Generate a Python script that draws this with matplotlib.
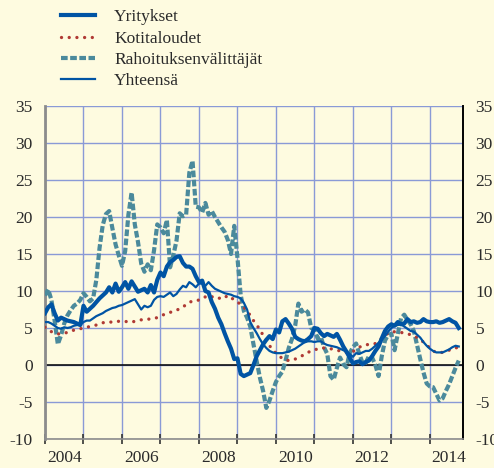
import matplotlib
matplotlib.use("Agg")
import matplotlib.pyplot as plt
import numpy as np

plt.rcParams['font.family'] = ['Liberation Serif', 'DejaVu Serif']
plt.rcParams['axes.unicode_minus'] = False

# monthly observations, Jan 2004 .. Oct 2014 (annual growth, %)
start_year = 2004

yritykset = [
    7.0, 7.8, 8.2, 7.0, 6.0, 6.4, 6.2, 6.0, 5.9, 5.8, 5.6, 5.4,
    8.0, 7.2, 7.6, 8.0, 8.5, 9.0, 9.4, 9.8, 10.5, 9.8, 11.0, 9.9,
    10.5, 11.2, 10.3, 11.3, 10.6, 9.9, 10.1, 10.3, 9.8, 10.8, 9.8, 11.5,
    12.5, 12.0, 13.3, 13.9, 14.2, 14.6, 14.7, 13.8, 13.3, 13.3, 13.0, 12.0,
    11.2, 11.4, 10.0, 9.8, 8.5, 7.6, 6.4, 5.5, 4.3, 3.2, 2.2, 0.8,
    0.9, -1.2, -1.5, -1.3, -1.1, 0.0, 1.2, 2.0, 2.8, 3.4, 3.9, 3.5,
    4.8, 4.4, 5.9, 6.2, 5.6, 4.9, 3.8, 3.5, 3.3, 3.2, 3.5, 3.9,
    5.0, 4.9, 4.3, 3.9, 4.2, 4.0, 3.8, 4.2, 3.4, 2.5, 1.8, 1.0,
    0.2, 0.4, 0.5, 0.1, 0.4, 0.6, 1.2, 1.9, 2.5, 3.6, 4.6, 5.2,
    5.5, 5.3, 5.8, 5.5, 5.6, 6.2, 5.8, 5.9, 5.7, 5.8, 6.2, 5.9,
    5.8, 5.8, 5.9, 5.7, 5.8, 6.0, 6.2, 5.9, 5.7, 5.0,
]

kotitaloudet = [
    5.1, 4.8, 4.5, 4.3, 4.2, 4.2, 4.3, 4.4, 4.6, 4.7, 4.8, 4.9,
    5.0, 5.1, 5.2, 5.3, 5.4, 5.6, 5.7, 5.8, 5.8, 5.8, 5.9, 5.9,
    5.9, 5.9, 5.8, 5.8, 5.9, 6.0, 6.1, 6.1, 6.2, 6.2, 6.3, 6.4,
    6.6, 6.8, 7.0, 7.1, 7.3, 7.4, 7.6, 7.8, 8.2, 8.5, 8.6, 8.6,
    8.8, 9.1, 9.2, 9.0, 9.2, 9.3, 9.1, 8.9, 9.1, 9.4, 9.1, 8.8,
    8.5, 8.2, 7.8, 7.3, 6.7, 6.0, 5.4, 4.8, 4.0, 3.3, 2.6, 2.1,
    1.6, 1.2, 0.9, 0.7, 0.6, 0.6, 0.8, 1.0, 1.2, 1.5, 1.7, 1.9,
    2.0, 2.2, 2.3, 2.3, 2.3, 2.2, 2.1, 2.0, 1.9, 1.8, 1.7, 1.7,
    1.8, 2.1, 2.4, 2.6, 2.7, 2.8, 2.8, 2.9, 3.2, 3.6, 4.0, 4.3,
    4.4, 4.5, 4.4, 4.4, 4.3, 4.2, 4.1, 4.0, 3.7, 3.4, 3.1, 2.7,
    2.3, 1.9, 1.7, 1.7, 1.7, 1.8, 2.0, 2.1, 2.3, 2.4,
]

rahoituksenvalittajat = [
    9.4, 10.2, 8.8, 6.0, 2.8, 4.0, 5.6, 6.7, 7.4, 8.0, 8.3, 8.8,
    9.7, 9.2, 8.6, 9.0, 11.5, 15.8, 18.9, 20.4, 20.8, 18.5, 16.3, 14.8,
    13.4, 15.4, 20.3, 23.3, 19.0, 16.6, 13.7, 12.6, 13.6, 12.8, 15.5, 19.0,
    18.6, 17.8, 19.6, 13.2, 14.8, 16.8, 20.5, 20.1, 20.3, 26.0, 27.6, 21.4,
    21.3, 20.6, 21.9, 20.3, 20.8, 20.0, 19.3, 18.6, 18.0, 16.9, 15.0, 18.8,
    14.5, 9.5, 7.3, 6.4, 5.2, 2.8, 0.5, -1.7, -3.5, -5.8, -4.8, -3.5,
    -2.3, -1.5, -0.9, 0.6, 2.3, 3.5, 5.3, 8.3, 7.2, 7.5, 7.1, 5.0,
    4.8, 3.6, 3.8, 2.4, 1.5, -1.5, -2.0, -0.4, 1.0, 0.1, -0.3, 1.6,
    2.4, 2.9, 1.5, 0.3, 0.3, 1.2, 1.0, 0.0, -1.5, 1.2, 3.3, 4.1,
    4.2, 2.0, 4.2, 6.3, 6.8, 6.1, 5.5, 4.6, 2.7, 0.8, -1.0, -2.5,
    -2.9, -3.0, -3.9, -4.8, -4.5, -3.5, -2.6, -1.5, -0.4, 0.6,
]

yhteensa = [
    5.8, 5.8, 5.6, 5.3, 5.0, 4.9, 5.1, 5.0, 5.1, 5.3, 5.4, 5.4,
    5.8, 6.0, 6.0, 6.3, 6.6, 6.8, 7.0, 7.3, 7.5, 7.7, 7.8, 8.0,
    8.1, 8.3, 8.5, 8.7, 8.9, 8.2, 7.5, 8.0, 7.8, 8.0, 8.8, 9.2,
    9.3, 9.2, 9.5, 9.8, 9.3, 9.6, 10.2, 10.7, 10.5, 11.2, 10.9, 10.5,
    11.0, 11.0, 10.7, 11.2, 10.7, 10.3, 10.1, 9.9, 9.7, 9.6, 9.5, 9.3,
    9.2, 9.0, 8.4, 7.5, 5.8, 5.0, 4.3, 3.5, 2.8, 2.3, 1.9, 1.7,
    1.6, 1.6, 1.6, 1.7, 1.8, 2.0, 2.2, 2.5, 2.8, 3.1, 3.2, 3.2,
    3.1, 3.2, 3.2, 2.9, 2.7, 2.6, 2.5, 2.4, 2.2, 2.0, 1.8, 1.5,
    1.1, 1.6, 1.5, 1.7, 1.9, 1.9, 2.2, 2.6, 3.0, 3.4, 3.9, 4.5,
    5.0, 5.3, 5.4, 5.5, 5.2, 4.9, 4.6, 4.5, 4.1, 3.7, 3.1, 2.6,
    2.2, 1.9, 1.7, 1.7, 1.7, 1.9, 2.1, 2.4, 2.6, 2.5,
]

labels = ['Yritykset', 'Kotitaloudet', 'Rahoituksenvälittäjät', 'Yhteensä']
year_labels = ['2004', '2006', '2008', '2010', '2012', '2014']

t = start_year + np.arange(len(yritykset)) / 12

bg = '#FEFBE0'
blue = '#0054A4'
red = '#B03A34'
teal = '#4B8A9C'
grid_c = '#8A9AD6'
text_c = '#2A2A2A'

fig = plt.figure(figsize=(4.94, 4.68), dpi=100, facecolor=bg)
ax = fig.add_axes([0.0911, 0.0620, 0.8461, 0.7115])
ax.set_facecolor(bg)

l1, = ax.plot(t, yritykset, color=blue, lw=3.0, solid_joinstyle='round', zorder=5)
l2, = ax.plot(t, kotitaloudet, color=red, lw=2.4, linestyle=(0, (0.01, 2.3)),
              dash_capstyle='round', zorder=4)
l3, = ax.plot(t, rahoituksenvalittajat, color=teal, lw=3.0, linestyle=(0, (1.6, 0.6)),
              zorder=3)
l4, = ax.plot(t, yhteensa, color=blue, lw=1.6, zorder=6)

ax.axhline(0, color='black', lw=1.1, zorder=2)

ax.set_xlim(2004, 2014.86)
ax.set_ylim(-10, 35)
ax.set_yticks(np.arange(-10, 36, 5))
ax.set_xticks(np.arange(2004, 2015))
ax.set_xticklabels([])
ax.set_xticks([int(y) + 0.5 for y in year_labels], minor=True)
ax.set_xticklabels(year_labels, minor=True)
ax.grid(True, color=grid_c, lw=1.0, zorder=1)

ax.tick_params(axis='x', which='major', direction='inout', length=7, width=1.2,
               color='#333333')
ax.tick_params(axis='x', which='minor', length=0, pad=8, labelsize=12.5,
               labelcolor=text_c)
ax.tick_params(axis='y', length=0, pad=9, labelsize=12.5, labelcolor=text_c,
               right=True, labelright=True)

ax.spines['top'].set_visible(False)
ax.spines['left'].set_color('#8C8C8C')
ax.spines['left'].set_linewidth(2.0)
ax.spines['right'].set_color('black')
ax.spines['right'].set_linewidth(1.4)
ax.spines['bottom'].set_color('#8C8C8C')
ax.spines['bottom'].set_linewidth(1.2)

fig.legend([l1, l2, l3, l4], labels, loc='upper left',
           bbox_to_anchor=(0.106, 0.999), frameon=False, fontsize=12.5,
           handlelength=1.95, handletextpad=1.1, labelspacing=0.3,
           borderpad=0, labelcolor=text_c)

fig.savefig('out.png', dpi=100, facecolor=bg)
